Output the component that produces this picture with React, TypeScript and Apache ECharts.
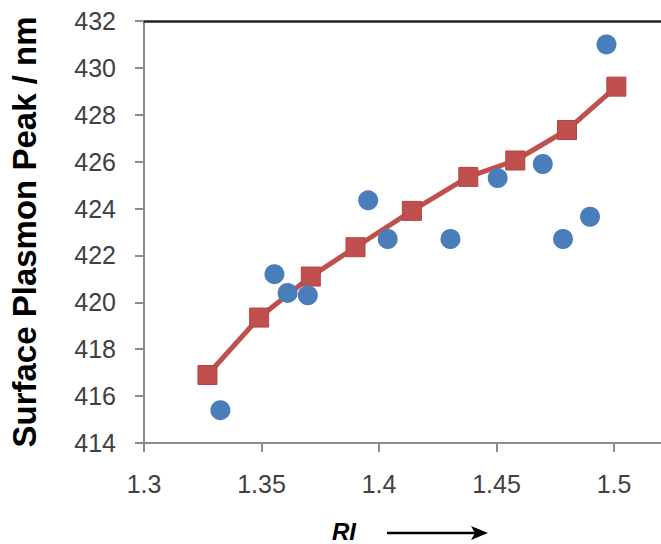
import React, { useEffect, useRef } from "react";
import * as echarts from "echarts";

// Measured points (blue circles)
const measuredRI = [1.3325, 1.3555, 1.3611, 1.3697, 1.3954, 1.4037, 1.4304, 1.4505, 1.4697, 1.4783, 1.4898, 1.4968];
const measuredPeak = [415.4, 421.2, 420.4, 420.3, 424.35, 422.7, 422.7, 425.3, 425.9, 422.7, 423.65, 431.0];

// Calculated curve (red squares + line)
const calcRI = [1.327, 1.349, 1.371, 1.39, 1.414, 1.438, 1.458, 1.48, 1.501];
const calcPeak = [416.9, 419.35, 421.1, 422.35, 423.9, 425.35, 426.05, 427.35, 429.2];

const yTicks = { min: 414, max: 432, interval: 2 };
const xTicks = { min: 1.3, max: 1.52, interval: 0.05 };

const yName = "Surface Plasmon Peak / nm";
const xName = "RI";

export default function App() {
  const ref = useRef<HTMLDivElement>(null);
  useEffect(() => {
    if (!ref.current) return;
    const chart = echarts.init(ref.current, undefined, { renderer: "svg" });
    const font = "'Liberation Sans', Arial, sans-serif";
    chart.setOption({
      animation: false,
      backgroundColor: "#ffffff",
      textStyle: { fontFamily: font },
      grid: { left: 143, top: 21, width: 528, height: 422 },
      xAxis: [
        {
          type: "value",
          min: xTicks.min,
          max: xTicks.max,
          interval: xTicks.interval,
          splitLine: { show: false },
          axisLine: { show: true, onZero: false, lineStyle: { color: "#8c8c8c", width: 2 } },
          axisTick: { show: true, length: 9, lineStyle: { color: "#8c8c8c", width: 2 } },
          axisLabel: {
            showMaxLabel: false,
            margin: 28,
            fontSize: 25,
            color: "#404040",
            fontFamily: font,
            formatter: (v: number) => String(Math.round(v * 100) / 100),
          },
        },
        {
          type: "value",
          position: "top",
          min: xTicks.min,
          max: xTicks.max,
          splitLine: { show: false },
          axisLine: { show: true, onZero: false, lineStyle: { color: "#222222", width: 2.5 } },
          axisTick: { show: false },
          axisLabel: { show: false },
        },
      ],
      yAxis: {
        type: "value",
        min: yTicks.min,
        max: yTicks.max,
        interval: yTicks.interval,
        name: yName,
        nameLocation: "middle",
        nameRotate: 90,
        nameGap: 103,
        nameTextStyle: { fontSize: 33, fontWeight: "bold", color: "#000000", fontFamily: font },
        splitLine: { show: false },
        axisLine: { show: true, onZero: false, lineStyle: { color: "#8c8c8c", width: 2 } },
        axisTick: { show: true, length: 9, lineStyle: { color: "#8c8c8c", width: 2 } },
        axisLabel: { margin: 28, fontSize: 25, color: "#404040", fontFamily: font },
      },
      graphic: [
        {
          type: "text",
          x: 332,
          y: 531,
          style: {
            text: xName,
            font: `italic bold 24px ${font}`,
            fill: "#000000",
            verticalAlign: "middle",
          },
        },
        {
          type: "line",
          shape: { x1: 387, y1: 533, x2: 476, y2: 533 },
          style: { stroke: "#000000", lineWidth: 2.5 },
        },
        {
          type: "polygon",
          shape: { points: [[488, 533], [471, 526], [475, 533], [471, 540]] },
          style: { fill: "#000000" },
        },
      ],
      series: [
        {
          type: "line",
          data: calcRI.map((x, i) => [x, calcPeak[i]]),
          symbol: "rect",
          symbolSize: 19,
          itemStyle: { color: "#C0504D", borderColor: "#B5443F", borderWidth: 1 },
          lineStyle: { color: "#C0504D", width: 5 },
          z: 2,
        },
        {
          type: "scatter",
          data: measuredRI.map((x, i) => [x, measuredPeak[i]]),
          symbol: "circle",
          symbolSize: 20,
          itemStyle: { color: "#4A7EBB", opacity: 1 },
          z: 3,
        },
      ],
    });
    return () => chart.dispose();
  }, []);
  return (
    <div
      ref={ref}
      style={{ position: "fixed", left: 0, top: 0, width: 661, height: 544 }}
    />
  );
}
